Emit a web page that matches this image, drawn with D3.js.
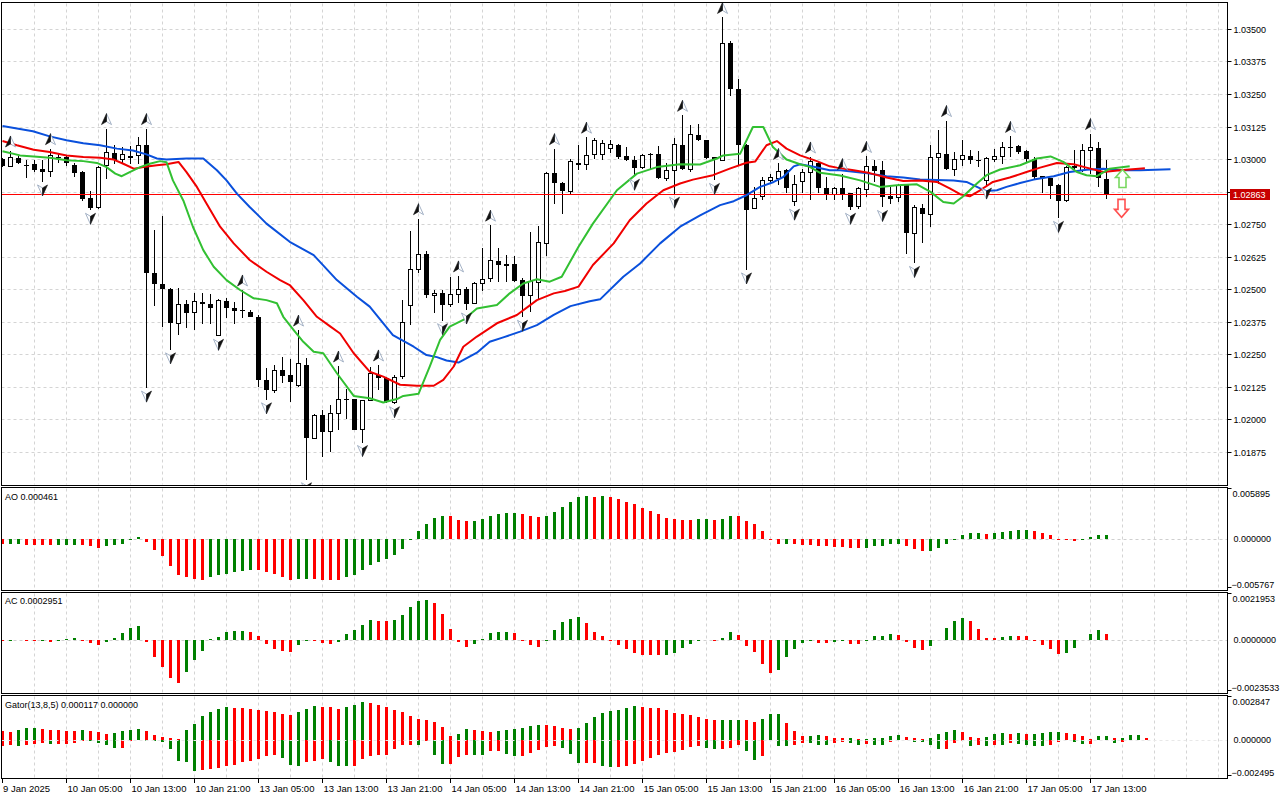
<!DOCTYPE html>
<html>
<head>
<meta charset="utf-8">
<script src="https://cdn.jsdelivr.net/npm/d3@7"></script>
<style>
  body { margin: 0; background: #fff; }
  svg { display: block; }
  text { font-family: "Liberation Sans", Arial, sans-serif; font-size: 9px; fill: #000; }
  text.time { font-size: 9.5px; }
</style>
</head>
<body>
<svg id="chart" width="1280" height="800"></svg>
<script>
// EURUSD H1, 9 Jan 21:00 .. 17 Jan 15:00 (bar index 0..138)
const open = [1.03000,1.02973,1.03005,1.02979,1.02980,1.02963,1.02952,1.03008,1.03008,1.02976,
1.02950,1.02852,1.02813,1.02976,1.03025,1.02998,1.03011,1.03013,1.03053,1.02561,
1.02520,1.02500,1.02369,1.02442,1.02410,1.02452,1.02442,1.02324,1.02456,1.02427,
1.02420,1.02412,1.02394,1.02152,1.02111,1.02189,1.02170,1.02129,1.02209,1.01928,
1.02016,1.01955,1.02024,1.02077,1.02077,1.01962,1.02073,1.02170,1.02158,1.02066,
1.02164,1.02438,1.02576,1.02634,1.02476,1.02484,1.02440,1.02481,1.02500,1.02446,
1.02522,1.02541,1.02609,1.02597,1.02596,1.02535,1.02474,1.02525,1.02676,1.02945,
1.02908,1.02877,1.02986,1.02979,1.03017,1.03017,1.03040,1.03055,1.03012,1.02998,
1.02966,1.03021,1.03021,1.02927,1.02957,1.03055,1.02960,1.03094,1.03072,1.03006,
1.02995,1.03446,1.03270,1.03055,1.02810,1.02855,1.02916,1.02927,1.02957,1.02835,
1.02912,1.02947,1.02983,1.02889,1.02865,1.02887,1.02868,1.02816,1.02883,1.02972,
1.02957,1.02857,1.02852,1.02903,1.02714,1.02813,1.02787,1.03005,1.03021,1.02960,
1.02998,1.03013,1.02998,1.02916,1.03000,1.03010,1.03046,1.03049,1.03029,1.03002,
1.02934,1.02929,1.02900,1.02839,1.02972,1.02957,1.03033,1.03044,1.02925];
const high = [1.03005,1.03031,1.03010,1.02995,1.02995,1.02995,1.03040,1.03025,1.03017,1.02985,
1.02955,1.02876,1.02973,1.03117,1.03055,1.03046,1.03050,1.03085,1.03117,1.02727,
1.02780,1.02505,1.02504,1.02458,1.02486,1.02486,1.02483,1.02461,1.02466,1.02450,
1.02497,1.02420,1.02399,1.02197,1.02209,1.02241,1.02231,1.02343,1.02235,1.02022,
1.02037,1.02056,1.02205,1.02115,1.02080,1.02074,1.02203,1.02209,1.02164,1.02170,
1.02458,1.02723,1.02771,1.02645,1.02497,1.02497,1.02546,1.02551,1.02510,1.02529,
1.02657,1.02746,1.02660,1.02631,1.02627,1.02544,1.02721,1.02742,1.02951,1.03040,
1.02910,1.03002,1.03053,1.03084,1.03080,1.03072,1.03072,1.03058,1.03046,1.03010,
1.03019,1.03024,1.03050,1.02983,1.03082,1.03168,1.03129,1.03136,1.03075,1.03008,
1.03544,1.03455,1.03308,1.03059,1.02893,1.02931,1.02942,1.02983,1.02960,1.02938,
1.02963,1.03008,1.02989,1.02931,1.02893,1.02944,1.02870,1.02893,1.03010,1.02995,
1.02992,1.02893,1.02906,1.02906,1.02823,1.02829,1.03053,1.03113,1.03148,1.03027,
1.03075,1.03034,1.03030,1.03008,1.03040,1.03067,1.03087,1.03053,1.03034,1.03008,
1.02934,1.02929,1.02906,1.02972,1.03036,1.03059,1.03098,1.03067,1.02995];
const low = [1.02970,1.02968,1.02980,1.02929,1.02952,1.02912,1.02930,1.02985,1.02975,1.02932,
1.02840,1.02803,1.02810,1.02925,1.02981,1.02981,1.02980,1.02980,1.02120,1.02435,
1.02356,1.02267,1.02324,1.02350,1.02343,1.02367,1.02367,1.02319,1.02389,1.02367,
1.02389,1.02392,1.02124,1.02075,1.02101,1.02139,1.02068,1.02126,1.01768,1.01924,
1.01854,1.01873,1.01960,1.02000,1.01958,1.01911,1.02069,1.02113,1.02062,1.02060,
1.02155,1.02362,1.02561,1.02465,1.02410,1.02379,1.02433,1.02446,1.02420,1.02443,
1.02494,1.02529,1.02529,1.02529,1.02529,1.02392,1.02413,1.02458,1.02627,1.02826,
1.02787,1.02867,1.02957,1.02957,1.03002,1.02998,1.03023,1.03002,1.02992,1.02934,
1.02962,1.02957,1.02922,1.02916,1.02865,1.02957,1.02952,1.03069,1.03002,1.02918,
1.02992,1.03244,1.02976,1.02574,1.02808,1.02842,1.02906,1.02900,1.02871,1.02819,
1.02871,1.02844,1.02870,1.02842,1.02842,1.02842,1.02803,1.02810,1.02854,1.02912,
1.02814,1.02826,1.02835,1.02637,1.02599,1.02676,1.02740,1.02903,1.02957,1.02934,
1.02972,1.02980,1.02970,1.02900,1.02989,1.02980,1.03008,1.03020,1.02989,1.02925,
1.02870,1.02848,1.02772,1.02835,1.02957,1.02950,1.02944,1.02893,1.02848];
const close = [1.02975,1.03005,1.02985,1.02975,1.02957,1.02950,1.03013,1.03003,1.02983,1.02947,
1.02848,1.02811,1.02967,1.03025,1.02995,1.03017,1.03004,1.03052,1.02561,1.02519,
1.02500,1.02372,1.02442,1.02410,1.02451,1.02442,1.02427,1.02458,1.02427,1.02418,
1.02417,1.02394,1.02152,1.02111,1.02189,1.02168,1.02145,1.02213,1.01928,1.02016,
1.01951,1.02024,1.02078,1.02075,1.01960,1.02074,1.02175,1.02158,1.02065,1.02162,
1.02371,1.02576,1.02633,1.02476,1.02484,1.02440,1.02479,1.02500,1.02442,1.02522,
1.02538,1.02609,1.02593,1.02591,1.02532,1.02474,1.02529,1.02678,1.02945,1.02908,
1.02877,1.02989,1.02977,1.03013,1.03071,1.03059,1.03055,1.03008,1.02998,1.02966,
1.03014,1.03014,1.02927,1.02957,1.03055,1.02960,1.03094,1.03072,1.03004,1.03002,
1.03442,1.03270,1.03055,1.02806,1.02850,1.02919,1.02929,1.02954,1.02887,1.02902,
1.02948,1.02989,1.02887,1.02864,1.02887,1.02865,1.02816,1.02887,1.02972,1.02953,
1.02854,1.02848,1.02897,1.02714,1.02814,1.02787,1.03005,1.03021,1.02960,1.02998,
1.03013,1.02998,1.02997,1.03002,1.03008,1.03044,1.03042,1.03027,1.03002,1.02931,
1.02929,1.02897,1.02839,1.02967,1.02966,1.03033,1.03044,1.02929,1.02863];

// Alligator lines as [bar index, price]
const jaw = [[0,1.03127],[3.8,1.03107],[5.9,1.03087],[8,1.03072],[10.1,1.03061],[12.2,1.03053],[14.3,1.0304],[16.3,1.03033],[18,1.03018],[19.3,1.03002],[20.5,1.02998],[23,1.03002],[25.1,1.03002],[26.8,1.02957],[28,1.02918],[29.3,1.02867],[30.9,1.02816],[33,1.02752],[35.9,1.02682],[38.9,1.02631],[41.8,1.02535],[44.3,1.02471],[45.9,1.02433],[48.8,1.02324],[51.4,1.02279],[53,1.02247],[54.3,1.02239],[55.5,1.02226],[57,1.02218],[59.3,1.02256],[60.9,1.02298],[62.6,1.02315],[64.7,1.02337],[66.8,1.02362],[68.9,1.02401],[71,1.02435],[73.4,1.02454],[74.7,1.02461],[77.6,1.02548],[79.7,1.02599],[82.2,1.02676],[84.7,1.0274],[87.2,1.02784],[89.7,1.02823],[91.4,1.02838],[93,1.02861],[94.7,1.02893],[96.4,1.02912],[97.6,1.02931],[98.9,1.02972],[99.7,1.0298],[101.4,1.0297],[103.4,1.02957],[104.7,1.02957],[108.4,1.02944],[110.5,1.02934],[112.6,1.02929],[114.7,1.02921],[118.9,1.02918],[120.5,1.02912],[122.2,1.02887],[123,1.02877],[124.3,1.0288],[125.5,1.02893],[127.2,1.02908],[128.9,1.02921],[131.4,1.02934],[133.4,1.0295],[135.5,1.02959],[137.6,1.02963],[139.7,1.02957],[142.2,1.02957],[146,1.02961]];
const teeth = [[0,1.03069],[1.8,1.03053],[3.9,1.03036],[5.9,1.03027],[8,1.03014],[10.1,1.03008],[12.2,1.03005],[13.9,1.02998],[15.1,1.02982],[16.4,1.02963],[17.6,1.02969],[19.3,1.02976],[20.5,1.0298],[22,1.02989],[23,1.0295],[24.3,1.02893],[25.5,1.02829],[27.2,1.0274],[28.9,1.02676],[30.9,1.02612],[33,1.02567],[34.7,1.02535],[35.9,1.02516],[37.6,1.02458],[39.3,1.02394],[41,1.02356],[42.2,1.0233],[43.9,1.02254],[45.9,1.02183],[47.6,1.02164],[49.7,1.02133],[51.8,1.02129],[53.9,1.02129],[55.1,1.02152],[56.4,1.02203],[57.6,1.02279],[59.3,1.02318],[61.8,1.02369],[64.3,1.02401],[66.8,1.02458],[68.9,1.02484],[70.3,1.02493],[72,1.0251],[73.8,1.02593],[76.4,1.02676],[78.4,1.02765],[80.5,1.02829],[82.6,1.0288],[84.7,1.02906],[86.3,1.02921],[88.8,1.02938],[90.9,1.02963],[93,1.02986],[94.1,1.02991],[95.5,1.03053],[96.8,1.03069],[98,1.0304],[99.7,1.03014],[101.8,1.02992],[103.4,1.02972],[104.3,1.02967],[106.4,1.02957],[108.4,1.02946],[110.5,1.02929],[112.6,1.02916],[114.7,1.02918],[116.8,1.02912],[118.4,1.02887],[119.7,1.02865],[120.9,1.02857],[122.2,1.0288],[123.8,1.02912],[125.9,1.02929],[128,1.0295],[129.7,1.02967],[131.8,1.02985],[133.9,1.0298],[135.5,1.02967],[137.6,1.0295],[139.7,1.02957],[142.8,1.02965]];
const lips = [[0,1.0303],[2.2,1.03014],[3.9,1.0301],[5.9,1.03005],[8,1.02995],[10.1,1.02992],[11.8,1.02985],[13,1.02969],[14.1,1.02944],[14.9,1.02934],[15.9,1.0295],[17.2,1.02969],[18.4,1.02982],[19.7,1.02992],[20.5,1.02988],[21.3,1.02918],[22.6,1.02841],[23.8,1.0274],[25.1,1.0265],[26.4,1.02586],[28,1.02535],[29.7,1.02497],[31.4,1.02465],[33,1.02458],[34.3,1.02446],[35.1,1.02394],[36.4,1.02343],[37.6,1.02298],[38.9,1.0226],[40.1,1.02254],[41.8,1.02177],[43.9,1.0209],[45.9,1.02081],[47.6,1.02065],[49.3,1.02078],[50.1,1.0209],[52,1.02098],[53.4,1.02203],[54.7,1.02305],[55.9,1.02356],[57.6,1.02382],[59.3,1.02426],[61.8,1.02439],[63.4,1.02484],[65.1,1.02522],[66.8,1.02538],[68.4,1.02529],[69.9,1.02548],[72,1.02663],[73.8,1.02752],[76.8,1.0288],[79.3,1.02944],[81.8,1.02969],[84.7,1.0298],[87.2,1.02979],[89.3,1.03002],[90.1,1.03014],[92.2,1.0302],[93.8,1.03123],[95.1,1.03123],[96.3,1.03046],[98,1.02998],[99.7,1.0298],[100.9,1.0297],[102.2,1.02947],[104.7,1.02937],[107.2,1.02918],[109.7,1.02893],[111.8,1.02899],[114.3,1.02903],[116,1.02874],[117.6,1.02835],[118.9,1.02829],[120.1,1.02857],[121.8,1.02906],[123,1.02938],[124.7,1.0296],[127.2,1.02976],[129.3,1.03002],[131,1.0301],[132.6,1.02989],[134.3,1.0295],[135.5,1.02938],[136.8,1.02934],[138.4,1.02963],[140.9,1.02972]];

// Fractals (bar indices)
const fractalUp = [1,6,13,18,30,37,42,47,52,57,61,69,73,85,90,97,101,105,108,118,126,136];
const fractalDown = [5,11,18,21,27,33,38,45,49,55,58,65,79,84,89,93,99,106,110,114,123,132];

// signal arrows near the last bar [bar index, price]
const signalUp = [140, 1.02960];
const signalDown = [140, 1.02776];
const bid = 1.02863;

// Awesome Oscillator
const ao = [-0.00058,-0.00055,-0.00052,-0.00065,-0.00066,-0.00073,-0.00074,-0.00073,-0.00066,-0.00064,
-0.00066,-0.00085,-0.00100,-0.00085,-0.00073,-0.00054,-0.00005,0.00023,-0.00038,-0.00123,
-0.00193,-0.00308,-0.00412,-0.00443,-0.00458,-0.00470,-0.00443,-0.00420,-0.00400,-0.00385,
-0.00366,-0.00354,-0.00356,-0.00385,-0.00400,-0.00443,-0.00470,-0.00458,-0.00457,-0.00459,
-0.00470,-0.00477,-0.00478,-0.00443,-0.00412,-0.00362,-0.00304,-0.00269,-0.00227,-0.00181,
-0.00112,-0.00008,0.00089,0.00177,0.00246,0.00269,0.00262,0.00223,0.00212,0.00214,
0.00235,0.00262,0.00285,0.00296,0.00304,0.00285,0.00262,0.00250,0.00270,0.00316,
0.00375,0.00429,0.00485,0.00498,0.00487,0.00498,0.00487,0.00464,0.00433,0.00400,
0.00362,0.00327,0.00289,0.00246,0.00235,0.00223,0.00222,0.00227,0.00235,0.00223,
0.00235,0.00269,0.00268,0.00212,0.00173,0.00096,-0.00004,-0.00058,-0.00056,-0.00059,
-0.00069,-0.00070,-0.00077,-0.00078,-0.00089,-0.00090,-0.00100,-0.00108,-0.00100,-0.00081,
-0.00077,-0.00062,-0.00054,-0.00077,-0.00116,-0.00135,-0.00134,-0.00108,-0.00058,-0.00004,
0.00046,0.00069,0.00070,0.00058,0.00069,0.00081,0.00096,0.00104,0.00105,0.00092,
0.00066,0.00046,-0.00003,-0.00015,-0.00020,-0.00004,0.00023,0.00044,0.000461];
const aoRange = [-0.005767, 0.005895];

// Accelerator Oscillator
const ac = [-0.000014,0.000014,0.000018,0.000009,-0.000014,0.000005,-0.000059,-0.000023,0.000077,0.000082,
-0.000032,-0.000137,-0.000214,-0.000077,0.000091,0.000319,0.000546,0.000637,-0.000077,-0.00076,
-0.001215,-0.001729,-0.001943,-0.001442,-0.00091,-0.0005,0.000046,0.000168,0.000396,0.00041,
0.000419,0.000378,0.000196,-0.000182,-0.00041,-0.000487,-0.000546,-0.000214,-0.000032,-0.000041,
-0.000137,-0.00015,-0.000077,0.000273,0.000455,0.000683,0.00091,0.000896,0.000878,0.00091,
0.001138,0.001515,0.001775,0.00182,0.001684,0.001183,0.0005,-0.000059,-0.000305,-0.000182,
0.000077,0.00035,0.000364,0.000373,0.000319,-0.000032,-0.000214,-0.000305,0.000005,0.000455,
0.000819,0.000987,0.001078,0.000774,0.000364,0.000182,-0.000023,-0.000228,-0.00041,-0.000569,
-0.000669,-0.000673,-0.000678,-0.00066,-0.000592,-0.000364,-0.000182,-0.000023,0.000032,-0.000014,
0.000091,0.000364,0.000228,-0.000259,-0.000532,-0.001092,-0.001502,-0.001351,-0.00076,-0.000396,
-0.000123,-0.000032,-0.000105,-0.000114,-0.000059,-0.000032,-0.00015,-0.000182,0.000002,0.000182,
0.000191,0.000273,0.000228,-0.000077,-0.000364,-0.000441,-0.000259,0.000032,0.000546,0.000865,
0.001001,0.000865,0.0005,0.000123,0.000091,0.000137,0.000182,0.000177,0.000173,-0.000032,
-0.000214,-0.00041,-0.000637,-0.000578,-0.000364,0.000032,0.000273,0.000455,0.0002951];
const acRange = [-0.0023533, 0.0021953];

// Gator Oscillator (upper = |jaw-teeth|, lower = -|teeth-lips|), shifted forward
const gatorUp = [0.00054,0.000534,0.000651,0.000762,0.000768,0.000697,0.000651,0.000605,0.000599,0.000592,
0.000605,0.00054,0.000475,0.000391,0.000436,0.00054,0.000651,0.000716,0.00054,0.000326,
0.000176,0.000085,0.000078,0.000605,0.001042,0.001517,0.001803,0.001999,0.002129,0.002083,
0.002064,0.002018,0.001953,0.001888,0.001803,0.001693,0.001608,0.001777,0.001999,0.002168,
0.002161,0.002103,0.001999,0.002129,0.002279,0.002474,0.002389,0.002233,0.002103,0.001953,
0.001803,0.001562,0.001348,0.001256,0.001152,0.000827,0.00026,0.000391,0.000697,0.000651,
0.00054,0.000501,0.00054,0.000605,0.000697,0.000762,0.000911,0.000977,0.00097,0.000911,
0.000736,0.000729,0.000742,0.001061,0.001452,0.001712,0.001842,0.001907,0.002038,0.002168,
0.002103,0.002083,0.002038,0.001907,0.001758,0.001647,0.001582,0.001452,0.001322,0.001256,
0.001263,0.001269,0.001282,0.001256,0.001126,0.001322,0.001647,0.001654,0.001061,0.00054,
0.000215,0.000221,0.00028,0.000215,0.00013,0.000085,0.000091,0.00002,0.000046,0.000085,
0.00013,0.000215,0.000306,0.000195,0.000085,0.000078,0.000085,0.000345,0.000521,0.000605,
0.000475,0.000195,0.00013,0.000195,0.000345,0.000436,0.000345,0.00041,0.000345,0.000371,
0.00041,0.000475,0.000482,0.000469,0.000345,0.000215,0.00002,0.000215,0.000221,0.000085,
0.00013,0.00028,0.000286,0.000117];
const gatorDown = [-0.000391,-0.000326,-0.000436,-0.000326,-0.00028,-0.000215,-0.00028,-0.00026,-0.000254,-0.000247,
-0.000111,-0.000117,-0.000215,-0.000326,-0.00054,-0.000534,-0.000111,-0.000046,-0.000111,-0.000117,
-0.000124,-0.000605,-0.001413,-0.001478,-0.002064,-0.001953,-0.001907,-0.001842,-0.001738,-0.001628,
-0.001478,-0.001413,-0.001256,-0.001042,-0.000977,-0.001217,-0.001628,-0.001738,-0.001478,-0.001413,
-0.001256,-0.001478,-0.001738,-0.001745,-0.001693,-0.001256,-0.001042,-0.001022,-0.000977,-0.000605,
-0.000326,-0.000319,-0.000326,-0.000111,-0.000977,-0.001562,-0.001556,-0.001126,-0.000977,-0.000983,
-0.00099,-0.000762,-0.000755,-0.000911,-0.001087,-0.001042,-0.000866,-0.000651,-0.000501,-0.000436,
-0.000566,-0.000957,-0.001517,-0.00151,-0.001504,-0.001712,-0.001777,-0.001771,-0.001712,-0.001562,
-0.001387,-0.001217,-0.000996,-0.000866,-0.000801,-0.000671,-0.000475,-0.00041,-0.000566,-0.000631,
-0.000625,-0.00054,-0.000371,-0.000736,-0.001348,-0.001061,-0.000046,-0.00041,-0.000417,-0.000345,
-0.000241,-0.000247,-0.000345,-0.000352,-0.000241,-0.00015,-0.000241,-0.000326,-0.000306,-0.000345,
-0.000352,-0.00015,-0.00002,-0.000046,-0.00013,-0.00015,-0.000345,-0.000631,-0.000625,-0.000241,
-0.000085,-0.00041,-0.000345,-0.00041,-0.000345,-0.000352,-0.000241,-0.000306,-0.000345,-0.00041,
-0.000411,-0.000345,-0.000176,-0.00002,-0.000176,-0.000306,-0.0003,-0.000046,-0.000052,-0.000241,
-0.000176,0];
const gatorRange = [-0.002495, 0.002847];

// time axis labels, one every 8 bars
const tickIdx = [0,8,16,24,32,40,48,56,64,72,80,88,96,104,112,120,128,136];
const tickLabels = ["9 Jan 2025","10 Jan 05:00","10 Jan 13:00","10 Jan 21:00","13 Jan 05:00","13 Jan 13:00",
  "13 Jan 21:00","14 Jan 05:00","14 Jan 13:00","14 Jan 21:00","15 Jan 05:00","15 Jan 13:00",
  "15 Jan 21:00","16 Jan 05:00","16 Jan 13:00","16 Jan 21:00","17 Jan 05:00","17 Jan 13:00"];
const priceTicks = d3.range(0, 14).map(k => 1.01875 + k * 0.00125);

// ---------- layout ----------
const plotL = 1.5, plotR = 1227.5;
const panes = {
  main:  {top: 2.5,   bottom: 485.5},
  ao:    {top: 487.5, bottom: 590.5},
  ac:    {top: 592.5, bottom: 693.5},
  gator: {top: 695.5, bottom: 778.5}
};
const colUp = "#008000", colDown = "#ff0000", gridCol = "#d4d4d4";

const svg = d3.select("#chart");
const x = d3.scaleLinear().domain([0, 152]).range([2.5, 1218.5]);
const y = d3.scaleLinear().domain([1.017478, 1.036033]).range([485, 2]);
const yAO = d3.scaleLinear().domain(aoRange).range([589, 488]);
const yAC = d3.scaleLinear().domain(acRange).range([692, 592]);
const yGT = d3.scaleLinear().domain(gatorRange).range([778, 696]);

const defs = svg.append("defs");
Object.entries(panes).forEach(([k, p]) => {
  defs.append("clipPath").attr("id", "clip-" + k)
    .append("rect").attr("x", plotL).attr("y", p.top).attr("width", plotR - plotL).attr("height", p.bottom - p.top);
});

// vertical grid every 4 bars in all panes
const vGrid = d3.range(4, 153, 4);
Object.entries(panes).forEach(([k, p]) => {
  svg.append("g").selectAll("line").data(vGrid).join("line")
    .attr("x1", d => x(d)).attr("x2", d => x(d))
    .attr("y1", p.top + 1).attr("y2", p.bottom - 1)
    .attr("stroke", gridCol).attr("stroke-dasharray", "3,3");
});

// horizontal price grid
svg.append("g").selectAll("line").data(priceTicks).join("line")
  .attr("x1", plotL).attr("x2", plotR)
  .attr("y1", d => Math.round(y(d)) + 0.5).attr("y2", d => Math.round(y(d)) + 0.5)
  .attr("stroke", gridCol).attr("stroke-dasharray", "3,3");

// ---------- main pane ----------
const gMain = svg.append("g").attr("clip-path", "url(#clip-main)");

const bars = d3.range(open.length);
gMain.append("g").selectAll("line").data(bars).join("line")
  .attr("x1", i => x(i)).attr("x2", i => x(i))
  .attr("y1", i => y(high[i])).attr("y2", i => y(low[i]))
  .attr("stroke", "#000").attr("shape-rendering", "crispEdges");
gMain.append("g").selectAll("rect").data(bars).join("rect")
  .attr("shape-rendering", "crispEdges")
  .attr("x", i => close[i] >= open[i] ? x(i) - 2 : x(i) - 2.5)
  .attr("width", i => close[i] >= open[i] ? 4 : 5)
  .attr("y", i => y(Math.max(open[i], close[i])))
  .attr("height", i => Math.max(1, y(Math.min(open[i], close[i])) - y(Math.max(open[i], close[i]))))
  .attr("fill", i => close[i] >= open[i] ? "#fff" : "#000")
  .attr("stroke", i => close[i] >= open[i] ? "#000" : "none");

// bid line
const by = Math.floor(y(bid)) + 0.5;
gMain.append("line").attr("x1", plotL).attr("x2", plotR)
  .attr("y1", by).attr("y2", by)
  .attr("stroke", "red").attr("stroke-width", 1);

// alligator
const line = d3.line().x(d => x(d[0])).y(d => y(d[1]));
[[jaw, "#0a50dc"], [teeth, "#f00000"], [lips, "#32c032"]].forEach(([data, c]) => {
  gMain.append("path").attr("d", line(data)).attr("fill", "none")
    .attr("stroke", c).attr("stroke-width", 2).attr("stroke-linejoin", "round");
});

// fractals
const upLeft = "M0,-6 L0,2 L-5,5 Z", upRight = "M0,-6 L5,5 L0,2 Z";
const gF = gMain.append("g");
fractalUp.forEach(i => {
  const g = gF.append("g").attr("transform", `translate(${x(i)},${y(high[i]) - 9})`);
  g.append("path").attr("d", upRight).attr("fill", "#fff").attr("stroke", "#8ea0b8").attr("stroke-width", 0.8);
  g.append("path").attr("d", upLeft).attr("fill", "#111").attr("stroke", "#111").attr("stroke-width", 0.6);
});
fractalDown.forEach(i => {
  const g = gF.append("g").attr("transform", `translate(${x(i)},${y(low[i]) + 8}) scale(1,-1)`);
  g.append("path").attr("d", upLeft).attr("fill", "#fff").attr("stroke", "#8ea0b8").attr("stroke-width", 0.8);
  g.append("path").attr("d", upRight).attr("fill", "#111").attr("stroke", "#111").attr("stroke-width", 0.6);
});

// signal arrows
const blockArrow = "M0,0 L7,8 L3.5,8 L3.5,18 L-3.5,18 L-3.5,8 L-7,8 Z";
gMain.append("path").attr("d", blockArrow)
  .attr("transform", `translate(${x(signalUp[0])},${y(signalUp[1])})`)
  .attr("fill", "#fff").attr("stroke", "#78d860").attr("stroke-width", 1.6);
gMain.append("path").attr("d", blockArrow)
  .attr("transform", `translate(${x(signalDown[0]) - 1},${y(signalDown[1])}) scale(1,-1)`)
  .attr("fill", "#fff").attr("stroke", "#ff5050").attr("stroke-width", 1.6);

// ---------- indicator panes ----------
function histogram(key, scale, values, colorOf) {
  const g = svg.append("g").attr("clip-path", `url(#clip-${key})`);
  const z = scale(0);
  g.selectAll("rect").data(values).join("rect")
    .attr("shape-rendering", "crispEdges")
    .attr("x", (d, i) => x(i) - 1.5).attr("width", 3)
    .attr("y", d => Math.min(scale(d), z))
    .attr("height", d => Math.max(0.6, Math.abs(scale(d) - z)))
    .attr("fill", (d, i) => colorOf(d, i));
  return g;
}
const risingColor = vals => (d, i) => (i > 0 && d > vals[i - 1]) ? colUp : colDown;

function zeroLine(key, scale, col) {
  svg.append("line").attr("x1", plotL).attr("x2", plotR)
    .attr("y1", Math.round(scale(0)) + 0.5).attr("y2", Math.round(scale(0)) + 0.5)
    .attr("stroke", col).attr("stroke-dasharray", "3,3");
}

zeroLine("ao", yAO, "#cfcfcf");
histogram("ao", yAO, ao, risingColor(ao));
zeroLine("ac", yAC, "#cfcfcf");
histogram("ac", yAC, ac, risingColor(ac));
histogram("gator", yGT, gatorUp, risingColor(gatorUp));
histogram("gator", yGT, gatorDown, (d, i) => (i > 0 && Math.abs(d) > Math.abs(gatorDown[i - 1])) ? colUp : colDown);
zeroLine("gator", yGT, "#e8e8e8");

// pane borders
Object.values(panes).forEach(p => {
  svg.append("rect").attr("x", plotL).attr("y", p.top)
    .attr("width", plotR - plotL).attr("height", p.bottom - p.top)
    .attr("fill", "none").attr("stroke", "#000");
});

// pane titles
const fmt6 = d3.format(".6f"), fmt7 = d3.format(".7f");
svg.append("text").attr("x", 5).attr("y", 500).text("AO " + fmt6(ao[ao.length - 1]));
svg.append("text").attr("x", 5).attr("y", 604).text("AC " + fmt7(ac[ac.length - 1]));
svg.append("text").attr("x", 5).attr("y", 708)
  .text(`Gator(13,8,5) ${fmt6(gatorUp[gatorUp.length - 1])} ${fmt6(Math.abs(gatorDown[gatorDown.length - 1]))}`);

// ---------- right axis ----------
const gAxis = svg.append("g");
priceTicks.forEach(p => {
  const yy = Math.round(y(p)) + 0.5;
  gAxis.append("line").attr("x1", plotR).attr("x2", plotR + 4).attr("y1", yy).attr("y2", yy).attr("stroke", "#000");
  gAxis.append("text").attr("x", plotR + 6).attr("y", yy).attr("dy", "0.35em").text(d3.format(".5f")(p));
});
// bid label, drawn over the tick label it covers
gAxis.append("rect").attr("x", 1230).attr("y", by - 5.5).attr("width", 40).attr("height", 11).attr("fill", "#c80000");
gAxis.append("text").attr("x", 1233).attr("y", by + 0.5).attr("dy", "0.35em").style("fill", "#fff").text(d3.format(".5f")(bid));

// indicator scales: max at the top edge, zero, min at the bottom edge
function paneAxis(key, scale, range, fmt) {
  const p = panes[key];
  gAxis.append("path").attr("d", `M${plotR},${p.top + 1} h4`).attr("stroke", "#000");
  gAxis.append("text").attr("x", plotR + 5).attr("y", p.top + 6).attr("dy", "0.35em").text(fmt(range[1]));
  gAxis.append("text").attr("x", plotR + 6).attr("y", scale(0)).attr("dy", "0.35em").text(fmt(0));
  gAxis.append("path").attr("d", `M${plotR},${p.bottom - 3} h4`).attr("stroke", "#000");
  gAxis.append("text").attr("x", plotR + 4).attr("y", p.bottom - 6).attr("dy", "0.35em").text(fmt(range[0]));
}
paneAxis("ao", yAO, aoRange, fmt6);
paneAxis("ac", yAC, acRange, fmt7);
paneAxis("gator", yGT, gatorRange, fmt6);

// ---------- time axis ----------
const gX = svg.append("g");
tickIdx.forEach((i, k) => {
  gX.append("line").attr("x1", x(i)).attr("x2", x(i)).attr("y1", 778.5).attr("y2", 783).attr("stroke", "#000");
  gX.append("text").attr("class", "time").attr("x", k === 0 ? 3 : x(i) + 1).attr("y", 792).text(tickLabels[k]);
});
</script>
</body>
</html>
